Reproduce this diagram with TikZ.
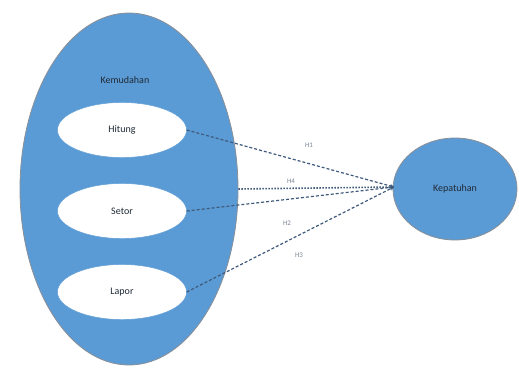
\documentclass[tikz,border=0pt]{standalone}
\usepackage{fontspec}
\setmainfont{Carlito}
\usetikzlibrary{shapes.geometric,arrows.meta}
\definecolor{fillblue}{HTML}{5B9BD5}
\definecolor{edgegray}{HTML}{8A8F96}
\definecolor{linecol}{HTML}{3F5A7A}
\definecolor{labcol}{HTML}{7A8595}
\definecolor{txtcol}{HTML}{1F2A36}
\begin{document}
\begin{tikzpicture}[x=1pt,y=-1pt,
  bigell/.style={ellipse,draw=edgegray,line width=0.8pt,fill=fillblue,inner sep=0pt},
  subell/.style={ellipse,draw=fillblue,fill=white,minimum width=129pt,minimum height=55pt,inner sep=0pt,font=\fontsize{10}{12}\selectfont,text=txtcol},
  conn/.style={draw=linecol,line width=1.2pt,densely dashed,-{Stealth[length=4pt,width=4pt]}},
  dconn/.style={draw=linecol,line width=1.6pt,dash pattern=on 1.5pt off 1.5pt,-{Stealth[length=4pt,width=4pt]}},
  lab/.style={font=\fontsize{7}{8}\selectfont,text=labcol,inner sep=1pt}]
\useasboundingbox (0,0) rectangle (519,370);
\node[bigell,minimum width=218pt,minimum height=352pt] (big) at (129,189) {};
\node[font=\fontsize{10}{12}\selectfont,text=txtcol] (kem) at (125,80) {Kemudahan};
\node[subell] (hit) at (122,130) {Hitung};
\node[subell] (set) at (122,211) {Setor};
\node[subell] (lap) at (122,292) {Lapor};
\node[bigell,minimum width=124pt,minimum height=102pt,font=\fontsize{10}{12}\selectfont,text=txtcol] (kep) at (455,189) {Kepatuhan};
\coordinate (tip) at (394,187);
\draw[conn] (hit.east) -- (tip);
\draw[dconn] (big.east) -- (tip);
\draw[conn] (set.east) -- (tip);
\draw[conn] (lap.east) -- (tip);
\node[lab] (l1) at (309,145) {H1};
\node[lab] (l4) at (291,181) {H4};
\node[lab] (l2) at (287,223) {H2};
\node[lab] (l3) at (299,255) {H3};
\end{tikzpicture}
\end{document}
